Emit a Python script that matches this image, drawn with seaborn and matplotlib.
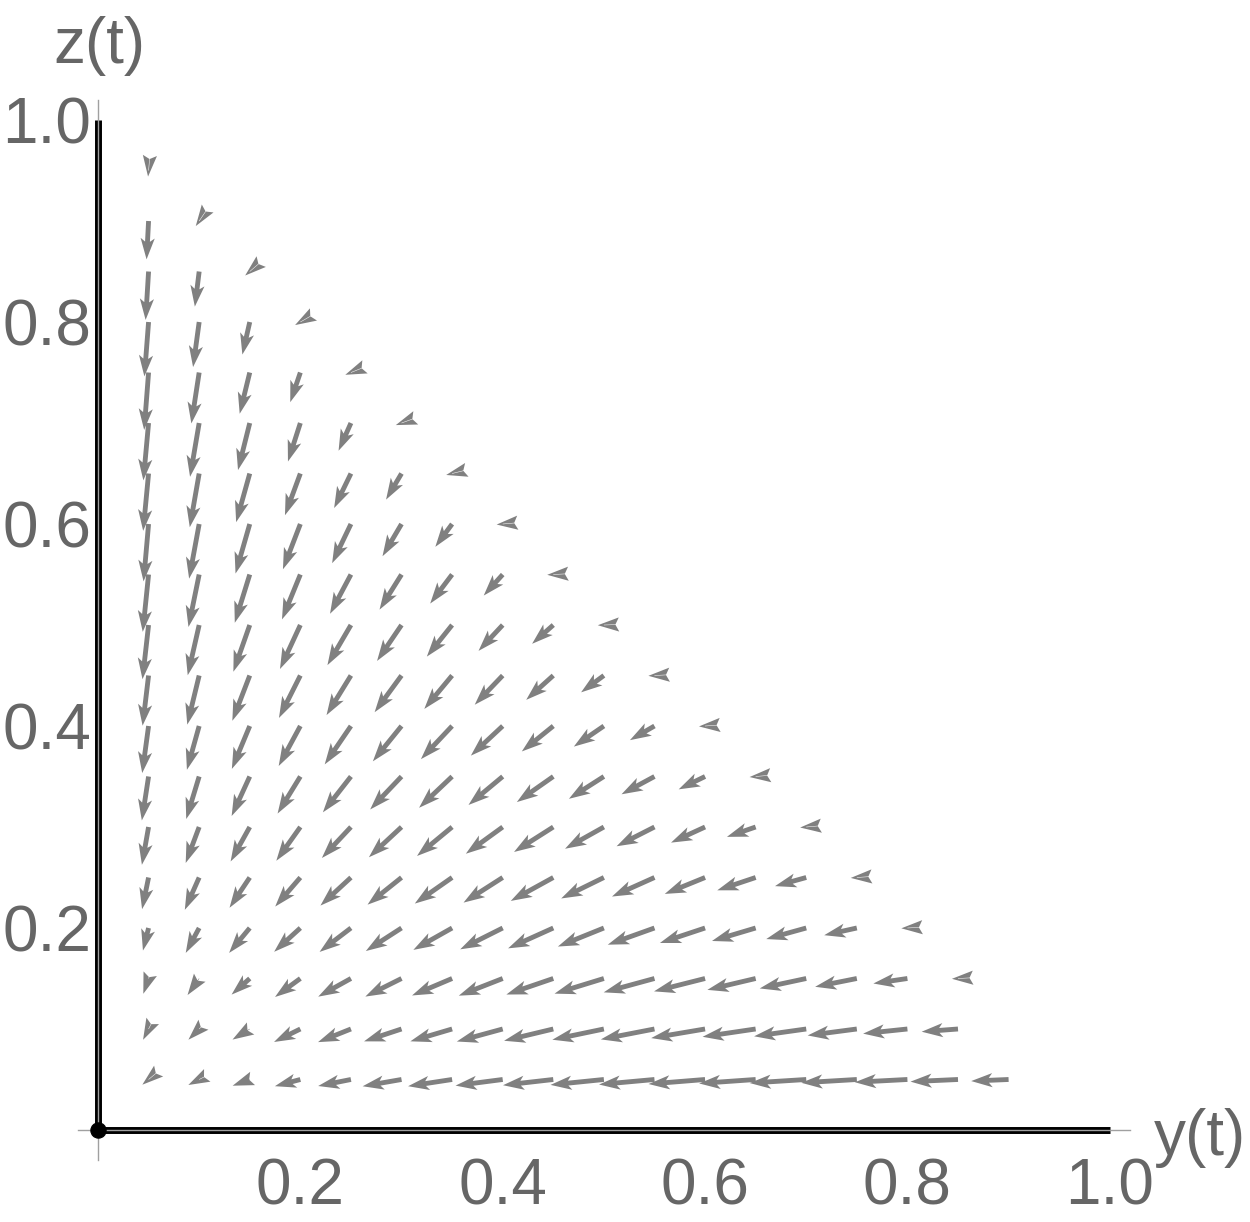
import numpy as np
import pandas as pd
import seaborn as sns
import matplotlib.pyplot as plt
from matplotlib.ticker import FixedLocator, MultipleLocator, FormatStrFormatter

# grid of the vector plot (step 0.05), y along the bottom, z up the side
y_grid = [0.05, 0.10, 0.15, 0.20, 0.25, 0.30, 0.35, 0.40, 0.45,
          0.50, 0.55, 0.60, 0.65, 0.70, 0.75, 0.80, 0.85, 0.90]
z_rows = [0.05, 0.10, 0.15, 0.20, 0.25, 0.30, 0.35, 0.40, 0.45, 0.50,
          0.55, 0.60, 0.65, 0.70, 0.75, 0.80, 0.85, 0.90, 0.95]

# arrow length per row (thousandths of an axis unit), left to right;
# the last entry of rows 3..19 is the tiny arrow on the y+z=1 edge
arrow_len = [
    [8, 12, 18, 26, 33, 39, 44, 47, 50, 53, 55, 56, 56, 56, 55, 52, 47, 37],
    [12, 15, 20, 29, 35, 39, 43, 47, 50, 52, 54, 54, 53, 52, 49, 44, 36],
    [16, 20, 24, 31, 37, 40, 43, 46.6, 49, 51, 52, 52, 49, 47, 42, 34, 6],
    [23, 28, 32, 35, 39, 42, 44, 47, 49, 49, 49, 47, 45, 41, 33, 6],
    [32, 35, 36, 38, 41, 43, 45, 46, 48, 47, 46, 43, 40, 32, 6],
    [38, 38, 39, 41, 42, 44, 45, 45, 46, 44, 42, 37, 30, 6],
    [44, 44, 43, 43, 45, 45, 45, 44, 44, 41, 37, 29, 6],
    [47, 45, 46, 45, 46, 45, 45, 43, 40, 36, 28, 6],
    [50, 50, 48, 47, 46, 45, 43, 40, 36, 28, 6],
    [54, 51, 49, 48, 46, 43, 40, 35, 28, 6],
    [57, 53, 50, 48, 44, 41, 36, 28, 6],
    [57, 55, 51, 48, 43, 37, 28, 6],
    [57, 54, 50, 44, 38, 30, 6],
    [57, 54, 48, 40, 30, 6],
    [57, 51, 42, 31, 6],
    [54, 45, 33, 6],
    [48, 35, 6],
    [38, 6],
    [6],
]

# arrow direction per row: degrees below the leftward horizontal
arrow_deg = [
    [40, 27, 20, 14.8, 11.3, 9.9, 8.7, 7.4, 6.5, 5.8, 5.2, 4.6, 4, 3.6, 3.4, 3, 2.6, 2.4],
    [63, 45, 31.6, 26.3, 21.8, 18.3, 16.5, 15.3, 13.5, 11.8, 11, 9.6, 8.4, 8, 7.5, 6, 4.3],
    [71, 55, 41.6, 36.2, 29.1, 26.6, 23, 21.4, 18.9, 17.1, 15.3, 14.2, 13.3, 12.1, 11.3, 8.4, 3],
    [76, 61.7, 50.4, 42.3, 37.4, 32.9, 29.5, 26.7, 24.3, 22, 19.7, 18.4, 16.6, 15.5, 12.5, 3],
    [78.4, 66.1, 56.3, 49.2, 42.7, 38.7, 35, 32.7, 28.9, 26.2, 24.2, 22.2, 18.5, 15.5, 4],
    [80, 69.5, 61, 54.6, 46.9, 42.9, 39.6, 36, 32.5, 29.3, 27, 24.7, 19, 5],
    [81.3, 73.1, 65.4, 58.5, 52, 46.5, 43.5, 39.8, 35.1, 32.6, 28.4, 26, 5],
    [82.3, 74.4, 67.4, 61.6, 55.7, 51, 46.8, 43, 39, 34.5, 30, 4],
    [83.2, 76.4, 69, 63.3, 58.4, 53.8, 50.3, 46.3, 42, 36.5, 3],
    [83.6, 77.2, 70.7, 65.2, 59.7, 55.8, 51.4, 47, 41.6, 2],
    [84.2, 78.5, 72.8, 67.8, 62, 58, 53, 48, 3],
    [85, 79.6, 74, 69, 64.4, 59.5, 53.7, 5],
    [84.6, 80.1, 74.4, 69.8, 64.1, 59.4, 14],
    [84.8, 80.4, 76, 72.2, 66, 20],
    [85.6, 81.3, 76.3, 71.2, 22],
    [85.6, 82.3, 77.2, 30],
    [86.5, 83, 41],
    [87, 56],
    [85],
]

x_ticks = [0.2, 0.4, 0.6, 0.8, 1.0]
y_ticks = [0.2, 0.4, 0.6, 0.8, 1.0]

rows = []
for z, lens, degs in zip(z_rows, arrow_len, arrow_deg):
    for y, L, a in zip(y_grid, lens, degs):
        t = np.deg2rad(a)
        rows.append((y, z, L, -L * np.cos(t), -L * np.sin(t)))
df = pd.DataFrame(rows, columns=['y', 'z', 'L', 'u', 'v'])

sns.set_theme(style='white')
plt.rcParams['font.family'] = ['Liberation Sans', 'DejaVu Sans']

fig = plt.figure(figsize=(12.5, 12.22), dpi=100)
ax = fig.add_axes([0.0622, 0.0505, 0.8418, 0.8678])
ax.set_xlim(-0.02, 1.02)
ax.set_ylim(-0.03, 1.02)

# arrowhead of about 21 x 14 px; arrows shorter than the head are drawn
# with a hairline shaft so the head stays solid
head_len, head_w, head_ax = 0.021, 0.014, 0.0175
long_df = df[df.L >= 21]
short_df = df[df.L < 21]
for part, w in [(long_df, 0.0048), (short_df, 0.0005)]:
    ax.quiver(part.y, part.z, part.u, part.v, angles='xy', scale_units='xy',
              scale=1000, units='xy', width=w, headwidth=head_w / w,
              headlength=head_len / w, headaxislength=head_ax / w,
              minshaft=0, minlength=0, pivot='tail', color='#808080',
              zorder=3)

for s in ['top', 'right']:
    ax.spines[s].set_visible(False)
for s in ['left', 'bottom']:
    ax.spines[s].set_position(('data', 0))
    ax.spines[s].set_color('#a0a0a0')
    ax.spines[s].set_linewidth(1)

ax.xaxis.set_major_locator(FixedLocator(x_ticks))
ax.yaxis.set_major_locator(FixedLocator(y_ticks))
ax.xaxis.set_minor_locator(MultipleLocator(0.05))
ax.yaxis.set_minor_locator(MultipleLocator(0.05))
ax.xaxis.set_major_formatter(FormatStrFormatter('%.1f'))
ax.yaxis.set_major_formatter(FormatStrFormatter('%.1f'))
ax.tick_params(which='both', direction='in', color='#a0a0a0', width=1,
               labelsize=46, labelcolor='#666666')
ax.tick_params(which='major', length=7)
ax.tick_params(which='minor', length=5)
ax.tick_params(axis='x', pad=20)
ax.tick_params(axis='y', pad=5)

# thick black axes from 0 to 1 and the dot at the origin
ax.plot([0, 1], [0, 0], color='black', lw=5, solid_capstyle='butt', zorder=2)
ax.plot([0, 0], [0, 1], color='black', lw=5, solid_capstyle='butt', zorder=2)
sns.scatterplot(x=[0], y=[0], s=120, color='black', edgecolor='black',
                zorder=5, ax=ax, legend=False, clip_on=False)

fig.text(0.0792, 0.9624, 'z(t)', fontsize=46, color='#666666',
         ha='center', va='center')
fig.text(0.96, 0.0687, 'y(t)', fontsize=46, color='#666666',
         ha='center', va='center')

fig.savefig('out.png', dpi=100, facecolor='white')
